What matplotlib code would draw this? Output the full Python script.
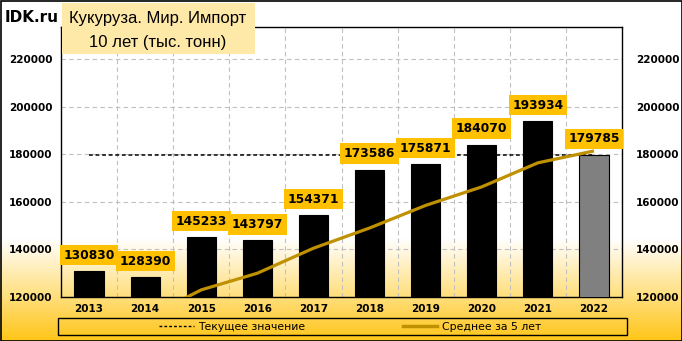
import numpy as np
import matplotlib.pyplot as plt
from matplotlib.lines import Line2D
from matplotlib.patches import Rectangle
from matplotlib.colors import LinearSegmentedColormap

years = ["2013", "2014", "2015", "2016", "2017", "2018", "2019", "2020", "2021", "2022"]
imports = [130830, 128390, 145233, 143797, 154371, 173586, 175871, 184070, 193934, 179785]
# 5-year average (starts below the axis in 2014)
avg_years = ["2014", "2015", "2016", "2017", "2018", "2019", "2020", "2021", "2022"]
avg_values = [111000, 123000, 130000, 140500, 149000, 158500, 166300, 176400, 181400]
current_value = 179785
yticks = [120000, 140000, 160000, 180000, 200000, 220000]

W, H = 682, 341
fig = plt.figure(figsize=(W / 100, H / 100), dpi=100)

# background gradient: white on top, yellow at the bottom
bg = fig.add_axes([0, 0, 1, 1], zorder=-10)
bg.set_axis_off()
grad = np.linspace(0, 1, 400).reshape(-1, 1)
cmap = LinearSegmentedColormap.from_list(
    "bg", [(0, "#FFC61A"), (0.30, "#FFFFFF"), (1, "#FFFFFF")])
bg.imshow(grad, aspect="auto", cmap=cmap, origin="lower", extent=[0, 1, 0, 1])
bg.set_xlim(0, 1)
bg.set_ylim(0, 1)

ax = fig.add_axes([61 / W, (H - 297) / H, (622 - 61) / W, (297 - 27) / H])
ax.set_facecolor("none")
x = np.arange(len(years))

colors = ["black"] * (len(years) - 1) + ["#808080"]
ax.bar(x, imports, width=0.52, color=colors, edgecolor="black", linewidth=0.8, zorder=3)

ax.hlines(current_value, 0, len(years) - 1, colors="black", linestyles=(0, (2.5, 1.8)),
          linewidth=1.1, zorder=2)

ax_x = [years.index(y) for y in avg_years]
ax.plot(ax_x, avg_values, color="#BF9000", linewidth=2.3, zorder=4, solid_capstyle="butt")

for i, v in enumerate(imports):
    ax.annotate(str(v), (i, v), xytext=(0, 11.5), textcoords="offset points",
                ha="center", va="center", fontsize=8.8, fontweight="bold",
                bbox=dict(boxstyle="square,pad=0.3", fc="#FFC000", ec="none"),
                zorder=6, annotation_clip=False)

ax.set_xlim(-0.5, len(years) - 0.5)
ax.set_ylim(120000, 233500)
ax.set_yticks(yticks)
ax.set_yticklabels([str(t) for t in yticks], fontsize=7.5, fontweight="bold")
ax.set_xticks(x)
ax.set_xticklabels(years, fontsize=7.5, fontweight="bold")
ax.tick_params(length=0, pad=5)
ax.tick_params(axis="y", pad=6)

ax.set_xticks(np.arange(len(years) + 1) - 0.5, minor=True)
ax.grid(True, which="minor", axis="x", color="#C0C0C0", linestyle=(0, (4, 3)), linewidth=0.8)
ax.grid(True, which="major", axis="y", color="#C0C0C0", linestyle=(0, (4, 3)), linewidth=0.8)
ax.tick_params(which="minor", length=0)
ax.set_axisbelow(True)
for s in ax.spines.values():
    s.set_color("black")
    s.set_linewidth(1.0)

ax2 = ax.twinx()
ax2.set_ylim(ax.get_ylim())
ax2.set_yticks(yticks)
ax2.set_yticklabels([str(t) for t in yticks], fontsize=7.5, fontweight="bold")
ax2.tick_params(length=0, pad=10)
for s in ax2.spines.values():
    s.set_visible(False)

# title box
fig.patches.append(Rectangle((62 / W, (H - 54) / H), (255 - 62) / W, 51 / H,
                             transform=fig.transFigure, fc="#FFE9A8", ec="none", zorder=20))
fig.text(158 / W, (H - 18) / H, "Кукуруза. Мир. Импорт", ha="center", va="center",
         fontsize=12, family="Liberation Sans", zorder=21)
fig.text(158 / W, (H - 42) / H, "10 лет (тыс. тонн)", ha="center", va="center",
         fontsize=12, family="Liberation Sans", zorder=21)
fig.text(5 / W, (H - 18) / H, "IDK.ru", ha="left", va="center", fontsize=11,
         fontweight="bold", zorder=21)

# legend
fig.patches.append(Rectangle((58 / W, (H - 335) / H), (627 - 58) / W, 17 / H,
                             transform=fig.transFigure, fc="none", ec="black", lw=1.0))
handles = [Line2D([], [], color="black", linestyle=(0, (2, 1.5)), linewidth=1.0),
           Line2D([], [], color="#BF9000", linewidth=2.5)]
fig.legend(handles, ["Текущее значение", "Среднее за 5 лет"], ncol=2, loc="center",
           bbox_to_anchor=(350 / W, (H - 326.5) / H), frameon=False, fontsize=7.8,
           handlelength=3.2, handletextpad=0.4, columnspacing=9.0,
           borderpad=0, borderaxespad=0)

# outer frame
fig.patches.append(Rectangle((0.5 / W, 0.5 / H), (W - 1) / W, (H - 1) / H,
                             transform=fig.transFigure, fc="none", ec="black", lw=1.2))

fig.savefig("out.png", dpi=100)
